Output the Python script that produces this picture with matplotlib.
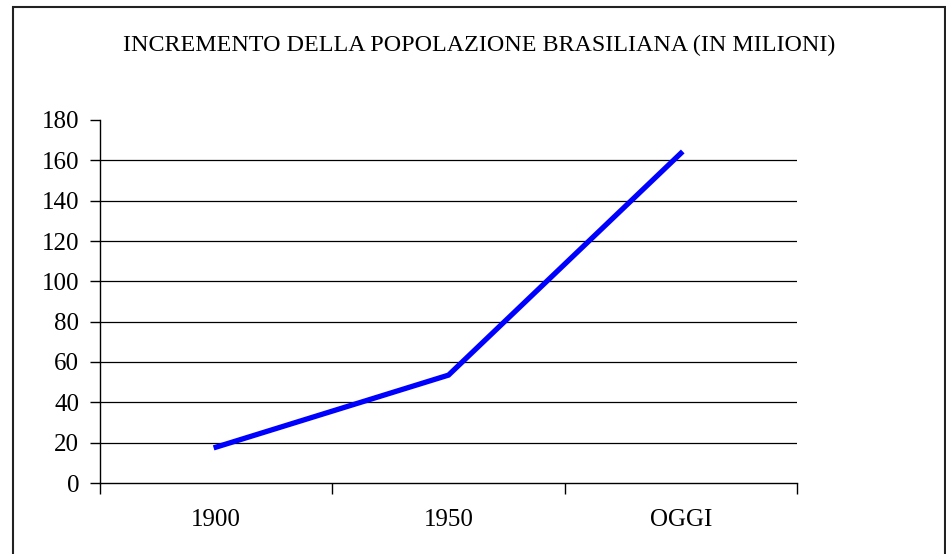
import matplotlib.pyplot as plt
from matplotlib.patches import Rectangle

categorie = ["1900", "1950", "OGGI"]
popolazione = [17.8, 53.5, 163.5]
y_ticks = [0, 20, 40, 60, 80, 100, 120, 140, 160, 180]

plt.rcParams['font.family'] = ['Liberation Serif', 'DejaVu Serif']

fig = plt.figure(figsize=(9.46, 5.54), dpi=100)
ax = fig.add_axes([100/946, 1-483/554, 697/946, 363/554])

# cornice esterna
fig.patches.append(Rectangle((13/946, -0.05), (945-13)/946, 1-7/554+0.05,
                             transform=fig.transFigure, fill=False,
                             edgecolor="#222222", linewidth=1.5))

x = list(range(len(categorie)))
for v in y_ticks[1:-1]:
    ax.axhline(v, color="black", linewidth=0.9, zorder=1)
ax.plot(x, popolazione, color="#0000ff", linewidth=3.8, zorder=3,
        solid_joinstyle="miter")

ax.set_xlim(-0.5, len(categorie) - 0.5)
ax.set_ylim(0, 180)
ax.set_yticks(y_ticks)
ax.set_xticks(x)
ax.set_xticklabels(categorie)
ax.set_xticks([i - 0.5 for i in range(len(categorie) + 1)], minor=True)
ax.tick_params(axis="x", which="major", length=0, pad=19, labelsize=18)
ax.tick_params(axis="x", which="minor", length=8, width=1, direction="out")
ax.tick_params(axis="y", length=7, width=1, direction="out", pad=8, labelsize=18)

for s in ["top", "right"]:
    ax.spines[s].set_visible(False)
ax.spines["left"].set_linewidth(1)
ax.spines["bottom"].set_linewidth(1)

fig.text(479/946, 1-45/554, "INCREMENTO DELLA POPOLAZIONE BRASILIANA (IN MILIONI)",
         ha="center", va="center", fontsize=17.3)

fig.savefig("out.png", dpi=100)
